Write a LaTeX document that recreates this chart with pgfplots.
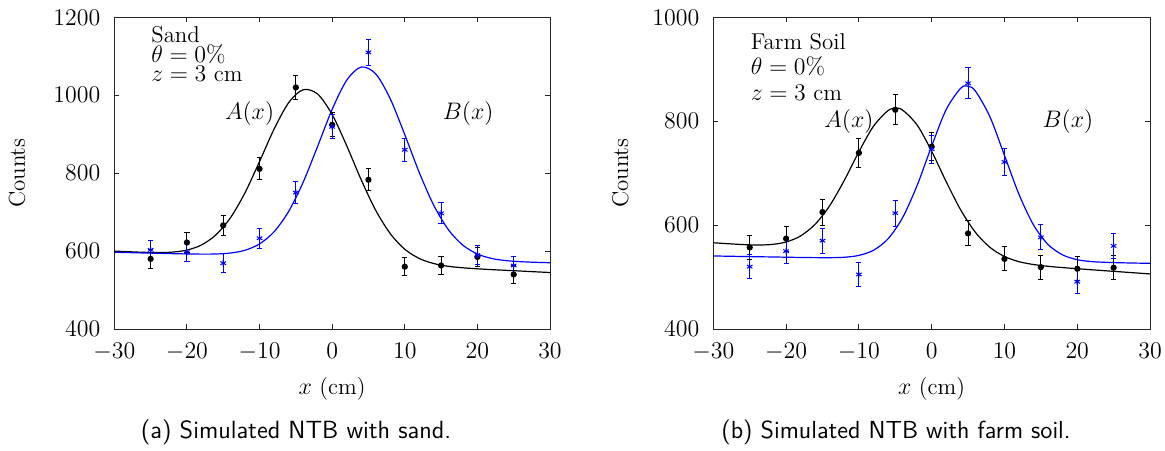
\documentclass[border=0pt]{standalone}
\usepackage{pgfplots}
\pgfplotsset{compat=1.18}
\usepackage{pgfplotstable}

\pgfplotstableread{
x y e
-25 580 24.1
-20 622 24.9
-15 666 25.8
-10 811 28.5
-5 1020 31.9
0 924 30.4
5 783 28.0
10 560 23.7
15 563 23.7
20 585 24.2
25 540 23.2
}\sandA
\pgfplotstableread{
x y e
-25 603 24.6
-20 597 24.4
-15 569 23.9
-10 633 25.2
-5 750 27.4
0 919 30.3
5 1110 33.3
10 860 29.3
15 697 26.4
20 590 24.3
25 563 23.7
}\sandB
\pgfplotstableread{
x y e
-25 557 23.6
-20 574 24.0
-15 625 25.0
-10 739 27.2
-5 822 28.7
0 751 27.4
5 584 24.2
10 535 23.1
15 519 22.8
20 516 22.7
25 518 22.8
}\farmA
\pgfplotstableread{
x y e
-25 520 22.8
-20 550 23.5
-15 570 23.9
-10 505 22.5
-5 623 25.0
0 746 27.3
5 873 29.5
10 721.5 26.9
15 576.5 24.0
20 491 22.2
25 560 23.7
}\farmB

\tikzset{txt/.style={anchor=base west, inner sep=0pt, font=\fontsize{11.5}{13}\selectfont}}

\pgfplotsset{
  myax/.style={
    scale only axis,
    anchor=south west,
    xmin=-30, xmax=30,
    xtick={-30,-20,-10,0,10,20,30},
    /pgf/number format/1000 sep={},
    axis line style={line width=0.5bp, black!85},
    every tick/.style={line width=0.5bp, black!85},
    major tick length=2.4bp,
    tick label style={font=\fontsize{11.5}{13}\selectfont},
    label style={font=\fontsize{11.5}{13}\selectfont},
    xticklabel style={yshift=-3.5bp},
    yticklabel style={xshift=-3.5bp},
    xlabel={$x$ (cm)},
    ylabel={Counts},
    xlabel style={at={(axis description cs:0.5,-0.2115)}, anchor=base},
    ylabel style={at={(axis description cs:-0.223,0.5)}, anchor=center},
    clip=true,
  },
  fitA/.style={black, line width=0.6bp, smooth, no marks},
  fitB/.style={blue, line width=0.6bp, smooth, no marks},
  ptA/.style={black, only marks, mark=*, mark size=1.3bp, line width=0.5bp,
    error bars/.cd, y dir=both, y explicit,
    error bar style={black, line width=0.5bp},
    error mark options={black, rotate=90, mark size=1.3bp, line width=0.5bp}},
  ptB/.style={blue, only marks, mark=asterisk, mark size=1.6bp, line width=0.5bp,
    error bars/.cd, y dir=both, y explicit,
    error bar style={blue, line width=0.5bp},
    error mark options={blue, rotate=90, mark size=1.3bp, line width=0.5bp}},
}

\begin{document}
\begin{tikzpicture}[x=1bp,y=1bp]
\path[use as bounding box] (0,0) rectangle (582.5,225);

% ---------------- (a) sand
\begin{axis}[myax,
  at={(57.15bp,60.5bp)}, width=217.85bp, height=155.85bp,
  ymin=400, ymax=1200, ytick={400,600,800,1000,1200}]
\addplot[fitA] coordinates {
(-30,600.0) (-28,598.3) (-26,596.9) (-24,596.2) (-22,597.3) (-20,602.5)
(-18,615.6) (-16,641.7) (-14,685.6) (-12,749.8) (-10,829.8) (-8,912.9)
(-6,980.6) (-4,1014.1) (-2,1003.1) (0,950.4) (2,870.5) (4,782.9)
(6,704.6) (8,644.8) (10,604.7) (12,580.9) (14,567.9) (16,560.9)
(18,557.1) (20,554.5) (22,552.4) (24,550.5) (26,548.7) (28,546.8) (30,545.0)};
\addplot[fitB] coordinates {
(-30,597.0) (-28,596.1) (-26,595.2) (-24,594.3) (-22,593.4) (-20,592.7)
(-18,592.2) (-16,592.5) (-14,595.0) (-12,602.1) (-10,618.3) (-8,649.5)
(-6,701.5) (-4,776.4) (-2,868.9) (0,963.7) (2,1038.5) (4,1072.3)
(6,1054.8) (8,990.8) (10,898.8) (12,801.4) (14,717.2) (16,655.0)
(18,615.2) (20,592.5) (22,580.9) (24,575.4) (26,572.7) (28,571.2) (30,570.1)};
\addplot[ptA] table[x=x, y=y, y error=e] {\sandA};
\addplot[ptB] table[x=x, y=y, y error=e] {\sandB};
\node[txt] at (axis cs:-24.96,1135) {Sand};
\node[txt] at (axis cs:-24.96,1084.5) {$\theta=0\%$};
\node[txt] at (axis cs:-24.96,1035) {$z=3$ cm};
\node[txt] at (axis cs:-14.8,936.5) {$A(x)$};
\node[txt] at (axis cs:15.2,936.5) {$B(x)$};
\end{axis}

% ---------------- (b) farm soil
\begin{axis}[myax,
  at={(356.65bp,60.5bp)}, width=218.35bp, height=155.85bp,
  ymin=400, ymax=1000, ytick={400,600,800,1000},
  ylabel style={at={(axis description cs:-0.213,0.5)}, anchor=center}]
\addplot[fitA] coordinates {
(-30,566.0) (-28,564.2) (-26,562.6) (-24,561.7) (-22,562.7) (-20,567.5)
(-18,579.2) (-16,601.8) (-14,637.6) (-12,686.3) (-10,741.1) (-8,790.3)
(-6,820.4) (-5,824.8) (-4,821.5) (-2,792.7) (0,742.2) (2,683.4) (4,628.9)
(6,586.2) (8,557.2) (10,539.6) (12,529.6) (14,524.1) (16,520.7)
(18,518.2) (20,516.1) (22,514.0) (24,512.0) (26,510.0) (28,508.0) (30,506.0)};
\addplot[fitB] coordinates {
(-30,540.6) (-28,540.1) (-26,539.6) (-24,539.1) (-22,538.7) (-20,538.2)
(-18,537.7) (-16,537.4) (-14,537.3) (-12,538.1) (-10,541.7) (-8,551.5)
(-6,573.5) (-4,614.2) (-2,676.3) (0,752.2) (2,822.7) (4,863.7) (5,867.3)
(6,858.3) (8,808.7) (10,734.2) (12,659.0) (14,600.1) (16,562.5)
(18,542.6) (20,533.4) (22,529.7) (24,528.3) (26,527.5) (28,526.9) (30,526.5)};
\addplot[ptA] table[x=x, y=y, y error=e] {\farmA};
\addplot[ptB] table[x=x, y=y, y error=e] {\farmB};
\node[txt] at (axis cs:-24.9,939) {Farm Soil};
\node[txt] at (axis cs:-24.9,889) {$\theta=0\%$};
\node[txt] at (axis cs:-24.9,840) {$z=3$ cm};
\node[txt] at (axis cs:-14.8,788) {$A(x)$};
\node[txt] at (axis cs:15.2,788) {$B(x)$};
\end{axis}

\node[anchor=base, inner sep=0pt, font=\sffamily\fontsize{12.5}{14}\selectfont] at (148,6) {(a) Simulated NTB with sand.};
\node[anchor=base, inner sep=0pt, font=\sffamily\fontsize{12.4}{14}\selectfont] at (448,6) {(b) Simulated NTB with farm soil.};
\end{tikzpicture}
\end{document}
